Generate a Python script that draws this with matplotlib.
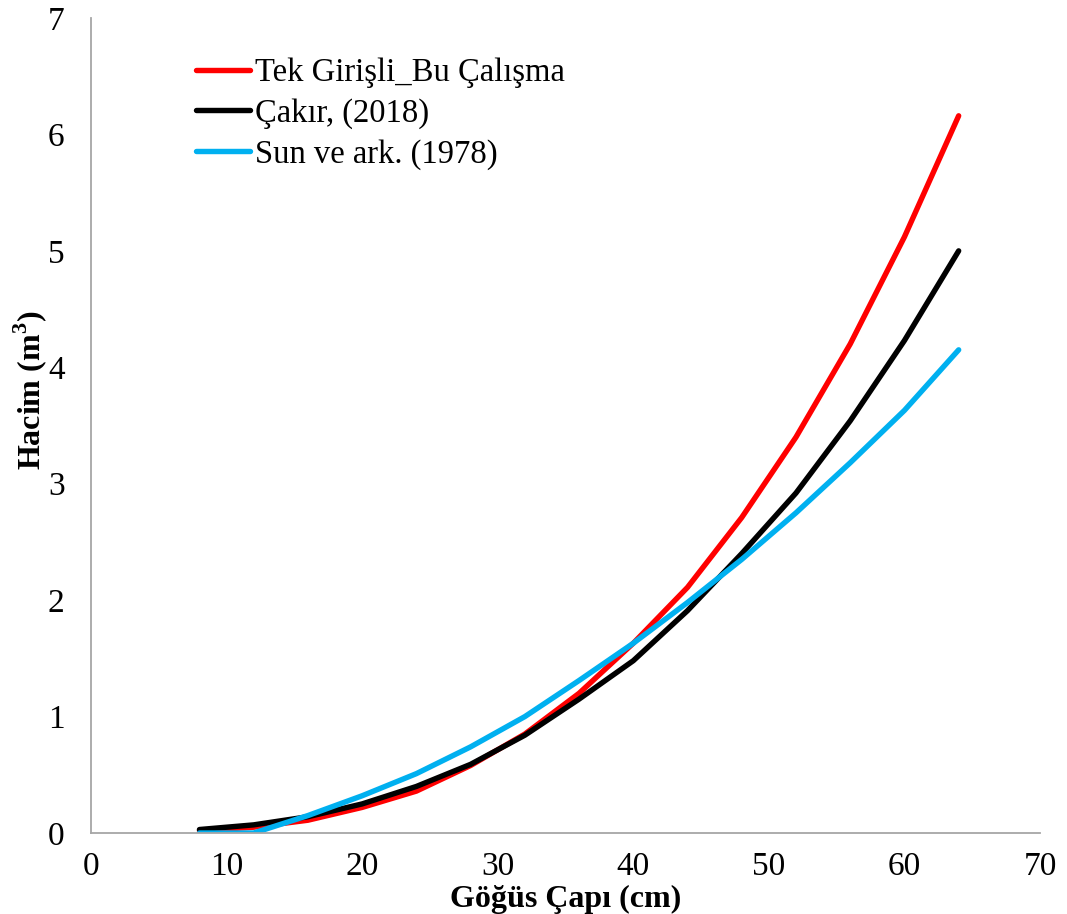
import matplotlib
matplotlib.use("Agg")
import matplotlib.pyplot as plt

# Göğüs çapı (cm)
cap = [8, 12, 16, 20, 24, 28, 32, 36, 40, 44, 48, 52, 56, 60, 64]

# Hacim (m3)
tek_girisli = [0.02, 0.05, 0.11, 0.22, 0.36, 0.58, 0.85, 1.20, 1.63, 2.11, 2.71, 3.40, 4.20, 5.12, 6.16]
cakir = [0.03, 0.07, 0.14, 0.25, 0.40, 0.59, 0.84, 1.15, 1.48, 1.91, 2.40, 2.92, 3.54, 4.23, 5.00]
sun = [0.00, 0.00, 0.15, 0.32, 0.51, 0.74, 1.00, 1.31, 1.63, 1.98, 2.35, 2.75, 3.18, 3.63, 4.15]

etiketler = ["Tek Girişli_Bu Çalışma", "Çakır, (2018)", "Sun ve ark. (1978)"]
renkler = ["#ff0000", "#000000", "#00b0f0"]

plt.rcParams["font.family"] = ["Liberation Serif", "DejaVu Serif"]
plt.rcParams["mathtext.fontset"] = "custom"
plt.rcParams["mathtext.bf"] = "Liberation Serif:bold"
plt.rcParams["mathtext.rm"] = "Liberation Serif"

fig = plt.figure(figsize=(10.67, 9.14), dpi=100)
ax = fig.add_axes([0.0853, 0.0886, 0.8894, 0.8917])

for seri, etiket, renk in zip([tek_girisli, cakir, sun], etiketler, renkler):
    ax.plot(cap, seri, color=renk, lw=3.9, label=etiket, solid_capstyle="round")

ax.set_xlim(0, 70)
ax.set_ylim(0, 7)
ax.set_xticks(range(0, 71, 10))
ax.set_yticks(range(0, 8))
ax.tick_params(length=0, labelsize=24)
ax.tick_params(axis="x", pad=13)
ax.tick_params(axis="y", pad=19)

for s in ["top", "right"]:
    ax.spines[s].set_visible(False)
for s in ["left", "bottom"]:
    ax.spines[s].set_color("#a6a6a6")
    ax.spines[s].set_linewidth(1.3)

fig.text(566 / 1067, 1 - 899 / 914, "Göğüs Çapı (cm)", fontsize=23,
         fontweight="bold", ha="center", va="center")
fig.text(30 / 1067, 1 - 390 / 914, r"Hacim (m$^\mathbf{3}$)", fontsize=23,
         fontweight="bold", ha="center", va="center", rotation=90)

ax.legend(loc="upper left", bbox_to_anchor=(0.1106, 0.951), frameon=False,
          fontsize=23.5, handlelength=1.65, handletextpad=0.15,
          labelspacing=0.30, borderaxespad=0, borderpad=0)

fig.savefig("out.png", dpi=100)
